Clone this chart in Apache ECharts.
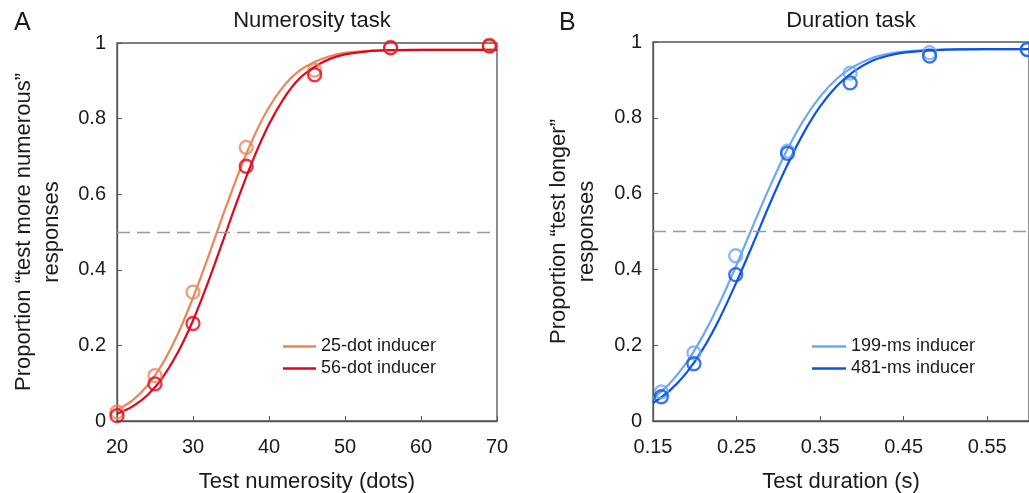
<!DOCTYPE html>
<html>
<head>
<meta charset="utf-8">
<script src="https://cdn.jsdelivr.net/npm/echarts@6/dist/echarts.min.js"></script>
<style>
  html, body { margin: 0; padding: 0; background: #fff; }
  #chart { width: 1029px; height: 493px; }
</style>
</head>
<body>
<div id="chart"></div>
<script>
// panel A - numerosity task (observed points)
var numX = [20, 25, 30, 37, 46, 56, 69];
var num25dot = [0.024, 0.12, 0.341, 0.724, 0.928, 0.989, 0.994];
var num56dot = [0.014, 0.098, 0.258, 0.674, 0.916, 0.987, 0.992];

// fitted curves
var numCurveX = [20, 22, 24, 26, 28, 30, 32, 34, 36, 38, 40, 42, 44, 46, 48, 50, 53, 56, 60, 65, 70];
var numCurve25 = [0.029, 0.054, 0.094, 0.152, 0.230, 0.326, 0.434, 0.548, 0.656, 0.752, 0.830, 0.888, 0.927, 0.950, 0.965, 0.974, 0.979, 0.981, 0.982, 0.982, 0.982];
var numCurve56 = [0.019, 0.038, 0.068, 0.115, 0.181, 0.266, 0.368, 0.480, 0.592, 0.696, 0.785, 0.855, 0.906, 0.937, 0.958, 0.970, 0.978, 0.981, 0.982, 0.982, 0.982];

// panel B - duration task (observed points)
var durX = [0.16, 0.199, 0.249, 0.311, 0.386, 0.481, 0.598];
var dur199ms = [0.077, 0.18, 0.436, 0.712, 0.918, 0.972, 0.981];
var dur481ms = [0.064, 0.151, 0.386, 0.706, 0.892, 0.963, 0.980];

var durCurveX = [0.15, 0.17, 0.19, 0.21, 0.23, 0.25, 0.27, 0.29, 0.31, 0.33, 0.35, 0.37, 0.39, 0.41, 0.43, 0.45, 0.5, 0.55, 0.6];
var durCurve199 = [0.060, 0.099, 0.154, 0.226, 0.313, 0.412, 0.517, 0.619, 0.713, 0.793, 0.856, 0.903, 0.935, 0.956, 0.968, 0.975, 0.980, 0.981, 0.981];
var durCurve481 = [0.047, 0.080, 0.127, 0.191, 0.272, 0.367, 0.469, 0.574, 0.672, 0.759, 0.830, 0.884, 0.922, 0.948, 0.963, 0.972, 0.980, 0.981, 0.981];

var cOrange = '#EE8559', cRed = '#E3051B', cLight = '#6FA6F2', cBlue = '#0B52EA';
var txt = '#1a1a1a', axisCol = '#555';
var font = 'Liberation Sans, Arial, sans-serif';

function pairs(xs, ys) {
    return xs.map(function (x, i) { return [x, ys[i]]; });
}

function curve(name, xs, ys, color, idx, extra) {
    var s = {
        name: name, type: 'line', xAxisIndex: idx, yAxisIndex: idx,
        data: pairs(xs, ys), smooth: 0.3, showSymbol: false,
        lineStyle: { color: color, width: 2.2 }, itemStyle: { color: color },
        z: 3
    };
    if (extra) s.markLine = extra;
    return s;
}

function dots(name, xs, ys, color, idx) {
    return {
        name: name, type: 'scatter', xAxisIndex: idx, yAxisIndex: idx,
        data: pairs(xs, ys), symbol: 'circle', symbolSize: 13, clip: false,
        itemStyle: { color: 'rgba(255,255,255,0)', borderColor: color, borderWidth: 2.3 },
        z: 4
    };
}

var halfLine = {
    silent: true, symbol: 'none', label: { show: false },
    lineStyle: { color: '#999', type: [13, 7], width: 1.3 },
    data: [{ yAxis: 0.5 }]
};

function yAxisFor(idx, name, gap) {
    return {
        type: 'value', gridIndex: idx, min: 0, max: 1, interval: 0.2,
        name: name, nameLocation: 'middle', nameGap: gap, nameRotate: 90,
        nameTextStyle: { fontFamily: font, fontSize: 22, color: txt, lineHeight: 28 },
        axisLine: { show: true, lineStyle: { color: axisCol, width: 1.3 } },
        axisTick: { show: true, inside: true, length: 5, lineStyle: { color: axisCol } },
        axisLabel: { fontFamily: font, fontSize: 20, color: txt, margin: 11 },
        splitLine: { show: false }
    };
}

var option = {
    animation: false,
    backgroundColor: '#fff',
    title: [
        { text: 'Numerosity task', left: 307, top: 5, textAlign: 'center',
          textStyle: { fontFamily: font, fontSize: 22, fontWeight: 'normal', color: txt } },
        { text: 'Duration task', left: 846, top: 5, textAlign: 'center',
          textStyle: { fontFamily: font, fontSize: 22, fontWeight: 'normal', color: txt } },
        { text: 'A', left: 9, top: 6, textStyle: { fontFamily: font, fontSize: 25, fontWeight: 'normal', color: txt } },
        { text: 'B', left: 554, top: 6, textStyle: { fontFamily: font, fontSize: 25, fontWeight: 'normal', color: txt } }
    ],
    grid: [
        { left: 117, top: 43, width: 380, height: 378, show: true, borderColor: axisCol, borderWidth: 1.3,
          backgroundColor: 'transparent', outerBoundsMode: 'none', containLabel: false },
        { left: 653, top: 42, width: 376, height: 379, show: true, borderColor: axisCol, borderWidth: 1.3,
          backgroundColor: 'transparent', outerBoundsMode: 'none', containLabel: false }
    ],
    legend: [
        { data: ['25-dot inducer', '56-dot inducer'], orient: 'vertical', left: 283, top: 337,
          padding: 0, itemGap: 3, itemWidth: 33, itemHeight: 2.6, icon: 'rect', selectedMode: false,
          textStyle: { fontFamily: font, fontSize: 18, color: txt, lineHeight: 19 } },
        { data: ['199-ms inducer', '481-ms inducer'], orient: 'vertical', left: 812, top: 337,
          padding: 0, itemGap: 3, itemWidth: 34, itemHeight: 2.6, icon: 'rect', selectedMode: false,
          textStyle: { fontFamily: font, fontSize: 18, color: txt, lineHeight: 19 } }
    ],
    xAxis: [
        { type: 'value', gridIndex: 0, min: 20, max: 70, interval: 10,
          name: 'Test numerosity (dots)', nameLocation: 'middle', nameGap: 50,
          nameTextStyle: { fontFamily: font, fontSize: 22, color: txt },
          axisLine: { show: true, lineStyle: { color: axisCol, width: 1.3 } },
          axisTick: { show: true, inside: true, length: 5, lineStyle: { color: axisCol } },
          axisLabel: { fontFamily: font, fontSize: 20, color: txt, margin: 16 },
          splitLine: { show: false } },
        { type: 'value', gridIndex: 1, min: 0.15, max: 0.6, interval: 0.1,
          name: 'Test duration (s)', nameLocation: 'middle', nameGap: 50,
          nameTextStyle: { fontFamily: font, fontSize: 22, color: txt },
          axisLine: { show: true, lineStyle: { color: axisCol, width: 1.3 } },
          axisTick: { show: true, inside: true, length: 5, lineStyle: { color: axisCol } },
          axisLabel: { fontFamily: font, fontSize: 20, color: txt, margin: 16, showMaxLabel: false,
                       formatter: function (v) { return v.toFixed(2); } },
          splitLine: { show: false } }
    ],
    yAxis: [
        yAxisFor(0, 'Proportion \u201ctest more numerous\u201d\nresponses', 51),
        yAxisFor(1, 'Proportion \u201ctest longer\u201d\nresponses', 52)
    ],
    series: [
        curve('25-dot inducer', numCurveX, numCurve25, cOrange, 0, halfLine),
        curve('56-dot inducer', numCurveX, numCurve56, cRed, 0),
        dots('25-dot data', numX, num25dot, cOrange, 0),
        dots('56-dot data', numX, num56dot, cRed, 0),
        curve('199-ms inducer', durCurveX, durCurve199, cLight, 1, halfLine),
        curve('481-ms inducer', durCurveX, durCurve481, cBlue, 1),
        dots('199-ms data', durX, dur199ms, cLight, 1),
        dots('481-ms data', durX, dur481ms, cBlue, 1)
    ]
};

var myChart = echarts.init(document.getElementById('chart'));
myChart.setOption(option);
</script>
</body>
</html>
